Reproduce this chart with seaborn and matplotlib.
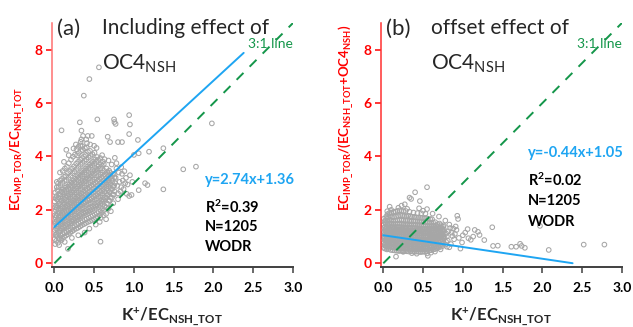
import numpy as np
import pandas as pd
import matplotlib
matplotlib.use("Agg")
import matplotlib.pyplot as plt
import seaborn as sns

sns.set_style("ticks")
plt.rcParams["font.family"] = ["Lato", "DejaVu Sans"]
plt.rcParams["mathtext.fontset"] = "custom"
plt.rcParams["mathtext.rm"] = "Lato"
plt.rcParams["mathtext.bf"] = "Lato:bold"
plt.rcParams["mathtext.it"] = "Lato:italic"

# K+/EC_NSH_TOT column positions of the dense cloud (shared by both panels)
core_x = [0.004, 0.022, 0.046, 0.069, 0.094, 0.121, 0.146, 0.171, 0.198, 0.223, 0.247,
          0.274, 0.297, 0.323, 0.346, 0.373, 0.396, 0.423, 0.448, 0.471, 0.498, 0.523,
          0.546, 0.574, 0.598, 0.621, 0.649, 0.673, 0.696, 0.724, 0.747]
# small within-column spread of x, cycled along each column
col_dx = [0.0, 0.011, 0.004, 0.015, 0.007]

# panel (a): EC_IMP_TOR/EC_NSH_TOT, one list per column
core_ya = [
    [0.91, 1.06, 1.24, 1.31, 1.49, 1.55, 1.72, 1.80, 1.99, 2.10, 2.31, 2.44],
    [0.84, 1.02, 1.11, 1.29, 1.37, 1.55, 1.60, 1.79, 1.87, 2.07, 2.16, 2.39, 2.52, 2.74],
    [0.77, 0.92, 1.13, 1.22, 1.39, 1.46, 1.64, 1.71, 1.89, 1.97, 2.16, 2.24, 2.47, 2.59, 2.86, 2.99],
    [0.90, 1.03, 1.22, 1.30, 1.48, 1.54, 1.73, 1.79, 1.98, 2.05, 2.25, 2.34, 2.56, 2.68, 2.93, 3.10],
    [0.95, 1.09, 1.29, 1.37, 1.56, 1.63, 1.81, 1.88, 2.07, 2.14, 2.34, 2.43, 2.65, 2.76, 3.01, 3.16, 3.46],
    [0.99, 1.14, 1.34, 1.42, 1.61, 1.68, 1.87, 1.93, 2.12, 2.20, 2.40, 2.49, 2.71, 2.83, 3.08, 3.24, 3.55],
    [1.04, 1.17, 1.39, 1.47, 1.66, 1.73, 1.92, 1.99, 2.18, 2.25, 2.45, 2.54, 2.76, 2.87, 3.12, 3.27, 3.61],
    [1.09, 1.22, 1.44, 1.52, 1.71, 1.78, 1.97, 2.04, 2.23, 2.31, 2.51, 2.60, 2.82, 2.94, 3.20, 3.38, 3.75],
    [1.14, 1.27, 1.49, 1.57, 1.76, 1.83, 2.02, 2.09, 2.29, 2.37, 2.58, 2.67, 2.90, 3.02, 3.28, 3.45, 3.88],
    [1.20, 1.34, 1.56, 1.64, 1.83, 1.90, 2.09, 2.16, 2.36, 2.44, 2.65, 2.75, 2.98, 3.10, 3.37, 3.55, 3.99],
    [1.25, 1.39, 1.61, 1.69, 1.88, 1.95, 2.14, 2.22, 2.42, 2.50, 2.71, 2.81, 3.04, 3.17, 3.44, 3.63, 4.07],
    [1.30, 1.44, 1.66, 1.74, 1.94, 2.01, 2.21, 2.29, 2.49, 2.58, 2.79, 2.89, 3.13, 3.26, 3.53, 3.73, 4.04, 4.27],
    [1.33, 1.49, 1.71, 1.80, 2.00, 2.07, 2.27, 2.35, 2.55, 2.64, 2.86, 2.96, 3.20, 3.33, 3.61, 3.80, 4.13, 4.36],
    [1.38, 1.53, 1.76, 1.85, 2.05, 2.13, 2.33, 2.41, 2.62, 2.71, 2.93, 3.04, 3.28, 3.41, 3.69, 3.88, 4.20, 4.42],
    [1.43, 1.58, 1.81, 1.90, 2.10, 2.18, 2.38, 2.47, 2.68, 2.77, 2.99, 3.10, 3.34, 3.48, 3.76, 3.94, 4.24, 4.39],
    [1.47, 1.63, 1.86, 1.95, 2.15, 2.24, 2.44, 2.53, 2.74, 2.84, 3.06, 3.17, 3.41, 3.55, 3.83, 4.00, 4.31],
    [1.51, 1.67, 1.90, 1.99, 2.20, 2.29, 2.50, 2.59, 2.80, 2.90, 3.12, 3.23, 3.48, 3.62, 3.89, 4.06, 4.34],
    [1.55, 1.71, 1.94, 2.04, 2.25, 2.34, 2.55, 2.64, 2.86, 2.96, 3.18, 3.30, 3.55, 3.69, 3.96, 4.17],
    [1.58, 1.75, 1.98, 2.08, 2.29, 2.38, 2.60, 2.69, 2.91, 3.01, 3.24, 3.36, 3.61, 3.75, 4.02, 4.21],
    [1.62, 1.79, 2.02, 2.12, 2.34, 2.43, 2.65, 2.75, 2.97, 3.07, 3.30, 3.42, 3.67, 3.81, 4.09],
    [1.65, 1.83, 2.07, 2.17, 2.39, 2.48, 2.70, 2.80, 3.02, 3.13, 3.36, 3.48, 3.73, 3.89, 4.14],
    [1.70, 1.88, 2.12, 2.22, 2.44, 2.54, 2.76, 2.86, 3.08, 3.19, 3.42, 3.54, 3.80, 3.98],
    [1.74, 1.93, 2.17, 2.28, 2.50, 2.60, 2.82, 2.92, 3.15, 3.26, 3.50, 3.63, 3.87],
    [1.81, 1.99, 2.23, 2.34, 2.56, 2.66, 2.88, 2.98, 3.21, 3.32, 3.56, 3.71, 3.94],
    [1.90, 2.06, 2.30, 2.40, 2.62, 2.72, 2.94, 3.04, 3.27, 3.39, 3.65, 3.81],
    [1.99, 2.14, 2.37, 2.47, 2.69, 2.79, 3.01, 3.11, 3.34, 3.46, 3.71],
    [2.10, 2.24, 2.46, 2.56, 2.78, 2.87, 3.09, 3.19, 3.42, 3.55],
    [2.22, 2.35, 2.57, 2.66, 2.87, 2.96, 3.18, 3.28, 3.47],
    [2.34, 2.46, 2.67, 2.76, 2.97, 3.06, 3.27, 3.40],
    [2.46, 2.57, 2.78, 2.87, 3.08, 3.17, 3.35],
    [2.57, 2.69, 2.91, 3.00, 3.22, 3.33],
]

# panel (a): scattered points outside the cloud
edge_xa = [0.56, 0.44, 0.37, 0.94, 0.54, 0.75, 0.755, 0.77, 0.32, 0.09, 0.95, 0.34, 0.36, 0.42,
           0.47, 0.34, 0.40, 0.67, 0.94, 0.70, 0.80, 0.85, 1.05, 1.98, 1.37, 1.19, 1.00, 1.06,
           1.62, 1.78, 1.37, 1.14, 1.17, 1.06, 0.94, 0.97, 0.58, 0.17, 0.80, 0.82, 0.85, 0.87,
           0.90, 0.92, 0.84, 0.78, 0.76, 0.88, 0.95, 0.98, 0.80, 0.74, 0.68, 0.62, 0.57, 0.52,
           0.44, 0.38, 0.30, 0.22, 0.13, 0.06, 0.01, 0.09, 0.65, 0.71, 0.60, 0.53, 0.45, 0.27,
           0.18, 0.12, 0.07, 0.03, 0.15, 0.24, 0.50, 0.63, 0.01, 0.03, 0.79, 0.83, 0.86, 0.77,
           0.81, 0.89, 0.91, 0.78, 0.84, 0.72, 0.68, 0.65, 0.33, 0.41, 0.58]
edge_ya = [7.34, 6.90, 6.28, 5.55, 5.39, 5.39, 5.29, 5.22, 5.28, 4.98, 5.20, 4.97, 4.77, 4.77,
           4.77, 4.64, 4.64, 4.74, 4.84, 4.54, 4.54, 4.54, 4.62, 5.24, 4.31, 4.18, 4.06, 4.12,
           3.52, 3.62, 2.77, 3.00, 2.93, 2.74, 2.52, 2.56, 0.81, 0.54, 2.62, 3.05, 3.35, 2.78,
           3.20, 2.95, 3.60, 3.75, 3.95, 3.45, 3.30, 3.05, 2.40, 2.25, 2.05, 1.80, 1.55, 1.45,
           1.30, 1.15, 1.05, 0.95, 0.80, 0.68, 0.72, 0.87, 1.65, 1.95, 4.05, 4.32, 4.45, 4.45,
           4.05, 3.80, 3.40, 3.05, 4.25, 4.30, 4.40, 3.90, 2.65, 2.85, 2.90, 2.70, 3.10, 3.20,
           3.40, 3.00, 2.60, 3.55, 2.85, 3.70, 3.85, 1.85, 4.55, 4.50, 1.70]

# panel (b): EC_IMP_TOR/(EC_NSH_TOT+OC4_NSH), one list per column
core_yb = [
    [0.58, 0.68, 0.77, 0.86, 0.93, 1.01, 1.08, 1.16, 1.24, 1.33, 1.44, 1.55, 1.67],
    [0.55, 0.64, 0.74, 0.82, 0.90, 0.97, 1.05, 1.12, 1.20, 1.29, 1.38, 1.49, 1.61, 1.75],
    [0.52, 0.62, 0.71, 0.80, 0.88, 0.95, 1.03, 1.11, 1.19, 1.27, 1.36, 1.47, 1.59, 1.72, 1.84],
    [0.54, 0.63, 0.73, 0.81, 0.89, 0.97, 1.04, 1.12, 1.21, 1.29, 1.39, 1.50, 1.62, 1.76, 1.88],
    [0.50, 0.60, 0.70, 0.79, 0.87, 0.95, 1.02, 1.10, 1.18, 1.27, 1.37, 1.48, 1.60, 1.73, 1.90],
    [0.49, 0.59, 0.69, 0.78, 0.86, 0.94, 1.02, 1.10, 1.18, 1.27, 1.36, 1.47, 1.59, 1.74, 1.92],
    [0.48, 0.58, 0.68, 0.77, 0.85, 0.93, 1.01, 1.09, 1.17, 1.26, 1.36, 1.47, 1.60, 1.75, 1.94],
    [0.47, 0.57, 0.67, 0.76, 0.85, 0.93, 1.01, 1.09, 1.17, 1.26, 1.36, 1.48, 1.61, 1.77, 1.96],
    [0.46, 0.56, 0.66, 0.75, 0.84, 0.92, 1.00, 1.08, 1.17, 1.26, 1.36, 1.48, 1.62, 1.79, 1.98],
    [0.47, 0.57, 0.67, 0.76, 0.84, 0.92, 1.00, 1.08, 1.16, 1.25, 1.35, 1.47, 1.61, 1.78, 1.97],
    [0.45, 0.55, 0.65, 0.74, 0.83, 0.91, 0.99, 1.07, 1.16, 1.25, 1.35, 1.47, 1.60, 1.77, 1.95],
    [0.46, 0.56, 0.66, 0.75, 0.83, 0.91, 0.99, 1.07, 1.15, 1.24, 1.34, 1.46, 1.59, 1.76, 1.96],
    [0.45, 0.55, 0.65, 0.74, 0.82, 0.90, 0.98, 1.06, 1.15, 1.24, 1.34, 1.46, 1.60, 1.78],
    [0.44, 0.54, 0.64, 0.73, 0.82, 0.90, 0.98, 1.06, 1.14, 1.23, 1.33, 1.45, 1.58, 1.75, 1.93],
    [0.45, 0.55, 0.65, 0.74, 0.82, 0.90, 0.98, 1.06, 1.14, 1.23, 1.33, 1.45, 1.58, 1.74],
    [0.44, 0.54, 0.64, 0.73, 0.81, 0.89, 0.97, 1.05, 1.13, 1.22, 1.32, 1.44, 1.57, 1.73, 1.90],
    [0.43, 0.53, 0.63, 0.72, 0.81, 0.89, 0.97, 1.05, 1.13, 1.22, 1.32, 1.44, 1.57, 1.72],
    [0.44, 0.54, 0.64, 0.73, 0.81, 0.89, 0.97, 1.05, 1.13, 1.22, 1.32, 1.43, 1.56, 1.71, 1.88],
    [0.43, 0.53, 0.63, 0.72, 0.80, 0.88, 0.96, 1.04, 1.12, 1.21, 1.31, 1.43, 1.56, 1.71],
    [0.42, 0.52, 0.62, 0.71, 0.80, 0.88, 0.96, 1.04, 1.12, 1.21, 1.31, 1.42, 1.55, 1.70, 1.87],
    [0.43, 0.53, 0.63, 0.72, 0.80, 0.88, 0.96, 1.04, 1.12, 1.20, 1.30, 1.41, 1.54, 1.69],
    [0.44, 0.54, 0.64, 0.73, 0.81, 0.89, 0.97, 1.04, 1.12, 1.20, 1.30, 1.41, 1.54, 1.69, 1.86],
    [0.45, 0.55, 0.65, 0.74, 0.82, 0.89, 0.97, 1.04, 1.12, 1.20, 1.30, 1.40, 1.53, 1.67],
    [0.47, 0.57, 0.66, 0.75, 0.83, 0.90, 0.97, 1.05, 1.12, 1.20, 1.29, 1.39, 1.52, 1.66],
    [0.49, 0.59, 0.68, 0.76, 0.84, 0.91, 0.98, 1.05, 1.13, 1.21, 1.30, 1.40, 1.52, 1.65],
    [0.51, 0.61, 0.70, 0.78, 0.85, 0.92, 0.99, 1.06, 1.14, 1.22, 1.31, 1.41, 1.53],
    [0.53, 0.63, 0.72, 0.80, 0.87, 0.94, 1.01, 1.08, 1.15, 1.23, 1.32, 1.42, 1.54],
    [0.56, 0.66, 0.75, 0.83, 0.90, 0.97, 1.04, 1.11, 1.18, 1.26, 1.35, 1.46],
    [0.59, 0.69, 0.78, 0.86, 0.93, 1.00, 1.07, 1.14, 1.21, 1.29, 1.38, 1.49],
    [0.62, 0.72, 0.81, 0.89, 0.96, 1.03, 1.10, 1.17, 1.25, 1.33, 1.43],
    [0.65, 0.75, 0.84, 0.92, 0.99, 1.06, 1.13, 1.20, 1.28, 1.37],
]

# panel (b): scattered points outside the cloud
edge_xb = [0.55, 0.40, 0.33, 0.35, 0.46, 0.27, 0.23, 0.19, 0.08, 0.55, 0.93, 0.94, 1.37, 1.06,
           1.15, 1.19, 1.21, 1.07, 1.13, 1.27, 1.38, 1.44, 1.61, 1.67, 1.72, 1.74, 1.78, 2.08,
           2.52, 2.78, 1.97, 0.16, 0.56, 0.05, 0.10, 0.13, 0.30, 0.45, 0.50, 0.62, 0.70, 0.78,
           0.83, 0.88, 0.90, 0.95, 0.99, 0.85, 0.80, 0.72, 0.65, 0.55, 0.36, 0.25, 1.03, 1.00,
           0.97, 0.82, 0.87, 0.76, 0.92, 1.10, 0.60, 0.42, 0.77, 0.79, 0.81, 0.84, 0.78, 0.86,
           0.80, 0.89, 0.83, 0.91, 0.76, 0.79]
edge_yb = [2.85, 2.66, 2.46, 2.41, 2.33, 2.21, 2.16, 2.08, 2.12, 2.03, 1.78, 1.66, 1.35, 1.28,
           1.25, 1.18, 1.06, 0.94, 1.00, 0.87, 0.65, 0.66, 0.62, 0.62, 0.73, 0.65, 0.58, 0.50,
           0.70, 0.70, 1.40, 0.25, 0.28, 1.95, 2.00, 1.92, 2.04, 2.06, 1.97, 1.86, 1.75, 1.60,
           1.45, 1.30, 1.10, 0.95, 0.78, 0.72, 0.62, 0.52, 0.44, 0.37, 0.38, 0.43, 1.15, 1.05,
           0.55, 1.20, 1.02, 1.42, 1.25, 0.88, 0.40, 0.36, 0.95, 1.12, 0.85, 1.32, 0.70, 1.15,
           1.00, 0.90, 0.60, 1.38, 1.22, 0.80]

# fitted lines (WODR) and 3:1 reference
fit_a = (2.74, 1.36)
fit_b = (-0.44, 1.05)
fit_x = [0.0, 2.38]
ref_x = [0.0, 3.0]
ref_slope = 3.0

panels = [
    dict(core=core_ya, ex=edge_xa, ey=edge_ya, fit=fit_a, tag="(a)",
         title1="Including effect of", ylabel=r"EC$_{\mathbf{IMP\_TOR}}$/EC$_{\mathbf{NSH\_TOT}}$",
         eq="y=2.74x+1.36", r2="0.39", left=52.0, spine="#ff7070",
         ann_x=1.89, ann_y=[3.12, 2.10, 1.35, 0.60]),
    dict(core=core_yb, ex=edge_xb, ey=edge_yb, fit=fit_b, tag="(b)",
         title1="offset effect of",
         ylabel=r"EC$_{\mathbf{IMP\_TOR}}$/(EC$_{\mathbf{NSH\_TOT}}$+OC4$_{\mathbf{NSH}}$)",
         eq="y=-0.44x+1.05", r2="0.02", left=380.9, spine="#ff3030",
         ann_x=1.82, ann_y=[4.13, 3.12, 2.33, 1.55]),
]

W, H = 633, 327
fig = plt.figure(figsize=(W / 100, H / 100), dpi=100)

gray = "#a6a6a6"
blue = "#1ea5f2"
green = "#14964a"
red = "#ff0000"

for i, p in enumerate(panels):
    ax = fig.add_axes([p["left"] / W, (H - 266.5) / H, 241 / W, 243.5 / H])
    xs, ys = [], []
    for cx, col in zip(core_x, p["core"]):
        xs += [cx + col_dx[j % len(col_dx)] for j in range(len(col))]
        ys += col
    xs += p["ex"]
    ys += p["ey"]
    df = pd.DataFrame({"x": xs, "y": ys})
    sns.scatterplot(data=df, x="x", y="y", ax=ax, marker="o", s=11,
                    facecolor="none", edgecolor=gray, linewidth=0.75, zorder=2)

    k, b = p["fit"]
    ax.plot(fit_x, [k * v + b for v in fit_x], color=blue, lw=1.4, zorder=3)
    ax.plot(ref_x, [ref_slope * v for v in ref_x], color=green, lw=1.4,
            dashes=(5, 4.5), zorder=3)

    ax.set_xlim(-0.03, 3.0)
    ax.set_ylim(-0.12, 9.0)
    ax.set_xticks([0.0, 0.5, 1.0, 1.5, 2.0, 2.5, 3.0])
    ax.set_xticklabels(["0.0", "0.5", "1.0", "1.5", "2.0", "2.5", "3.0"])
    ax.set_yticks([0, 2, 4, 6, 8])
    ax.set_xlabel("")
    ax.set_ylabel("")
    for s in ["top", "right"]:
        ax.spines[s].set_visible(False)
    ax.spines["left"].set_color(p["spine"])
    ax.spines["left"].set_linewidth(1.1)
    ax.spines["bottom"].set_color("#404040")
    ax.spines["bottom"].set_linewidth(1.4)
    ax.tick_params(axis="y", colors=red, length=4, width=1.1, pad=2.5)
    ax.tick_params(axis="x", colors="#404040", length=4.5, width=1.1, pad=7)
    for t in ax.get_yticklabels():
        t.set_fontweight("bold")
        t.set_fontsize(10)
        t.set_color(red)
    for t in ax.get_xticklabels():
        t.set_fontweight("bold")
        t.set_fontsize(10)
        t.set_color("black")

    ax.text(2.44, 8.2, "3:1 line", color=green, fontsize=10, va="center",
            clip_on=False)

    # annotation block
    xa, ya = p["ann_x"], p["ann_y"]
    kw = dict(fontsize=10.5, fontweight="bold", va="center")
    ax.text(xa, ya[0], p["eq"], color=blue, **kw)
    ax.text(xa, ya[1], r"R$^{\mathbf{2}}$=" + p["r2"], color="black", **kw)
    ax.text(xa, ya[2], "N=1205", color="black", **kw)
    ax.text(xa, ya[3], "WODR", color="black", **kw)

    # axis titles
    x0 = p["left"]
    fig.text((x0 + 120) / W, 1 - 317 / H, r"K$^{\mathbf{+}}$/EC$_{\mathbf{NSH\_TOT}}$",
             fontsize=12, fontweight="bold", ha="center", va="center")
    fig.text((x0 - 35) / W, 1 - 211 / H, p["ylabel"], color=red, fontsize=9.5,
             fontweight="bold", rotation=90, ha="center", va="bottom")

    # panel title
    fig.text((x0 + 5) / W, 1 - 35 / H, p["tag"], fontsize=16, va="baseline")
    tx = x0 + 50
    fig.text(tx / W, 1 - 34 / H, p["title1"], fontsize=15, va="baseline")
    fig.text(tx / W, 1 - 70 / H, r"OC4$_{\mathrm{NSH}}$", fontsize=15, va="baseline")

fig.savefig("out.png", dpi=100)
